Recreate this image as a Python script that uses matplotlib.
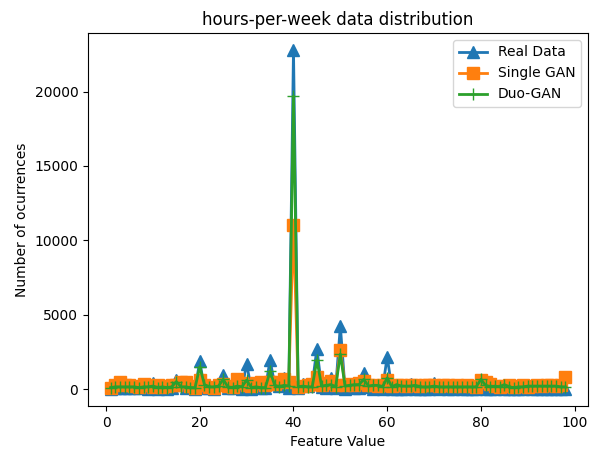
import numpy as np
import matplotlib
matplotlib.use("Agg")
import matplotlib.pyplot as plt

# feature values (hours per week)
hours = list(range(1, 99))

real_data = [30, 53, 59, 84, 95, 92, 45, 224, 28, 426,
             17, 256, 34, 55, 615, 299, 43, 112, 21, 1862,
             38, 66, 33, 370, 958, 46, 43, 129, 11, 1700,
             8, 401, 57, 44, 1937, 319, 220, 714, 57, 22803,
             52, 346, 237, 308, 2717, 114, 72, 770, 43, 4246,
             18, 206, 37, 63, 1051, 139, 36, 43, 8, 2177,
             3, 28, 13, 21, 359, 24, 6, 18, 0, 429,
             0, 104, 3, 1, 96, 4, 9, 12, 1, 197,
             4, 2, 0, 64, 20, 3, 1, 4, 3, 42,
             4, 2, 0, 1, 3, 9, 2, 14]

single_gan = [50, 250, 500, 300, 250, 200, 150, 350, 250, 150,
              300, 150, 200, 250, 250, 450, 450, 200, 100, 600,
              300, 150, 100, 250, 350, 200, 150, 700, 400, 250,
              200, 400, 450, 300, 500, 350, 450, 700, 500, 11000,
              150, 200, 300, 350, 800, 300, 400, 550, 300, 2600,
              300, 350, 300, 400, 550, 250, 300, 200, 250, 600,
              200, 250, 300, 200, 300, 250, 200, 250, 250, 300,
              200, 250, 300, 200, 250, 200, 250, 200, 150, 600,
              450, 350, 200, 150, 200, 250, 150, 200, 250, 150,
              200, 250, 200, 250, 300, 200, 250, 800]

duo_gan = [100, 150, 150, 150, 150, 150, 100, 150, 150, 200,
           100, 150, 100, 150, 500, 150, 150, 100, 100, 1500,
           300, 150, 150, 200, 650, 150, 100, 200, 150, 600,
           100, 150, 100, 100, 1200, 250, 150, 250, 200, 19700,
           150, 200, 150, 150, 1950, 200, 250, 300, 150, 2350,
           200, 250, 300, 300, 650, 200, 250, 250, 150, 750,
           150, 300, 200, 200, 200, 250, 150, 150, 150, 200,
           150, 150, 150, 150, 150, 150, 150, 150, 150, 650,
           250, 150, 200, 150, 300, 150, 100, 150, 150, 200,
           200, 200, 200, 200, 200, 200, 150, 150]

fig = plt.figure(figsize=(5.93, 4.5), dpi=100)
plt.plot(hours, real_data, marker='^', lw=2, ms=8, label='Real Data')
plt.plot(hours, single_gan, marker='s', lw=2, ms=8, label='Single GAN')
plt.plot(hours, duo_gan, marker='+', lw=2, ms=8, label='Duo-GAN')
plt.legend()
plt.xlabel("Feature Value")
plt.ylabel("Number of ocurrences")
plt.title("hours-per-week data distribution")
plt.subplots_adjust(left=88/593, right=588/593, top=1-33/450, bottom=1-406/450)
plt.savefig("out.png")
